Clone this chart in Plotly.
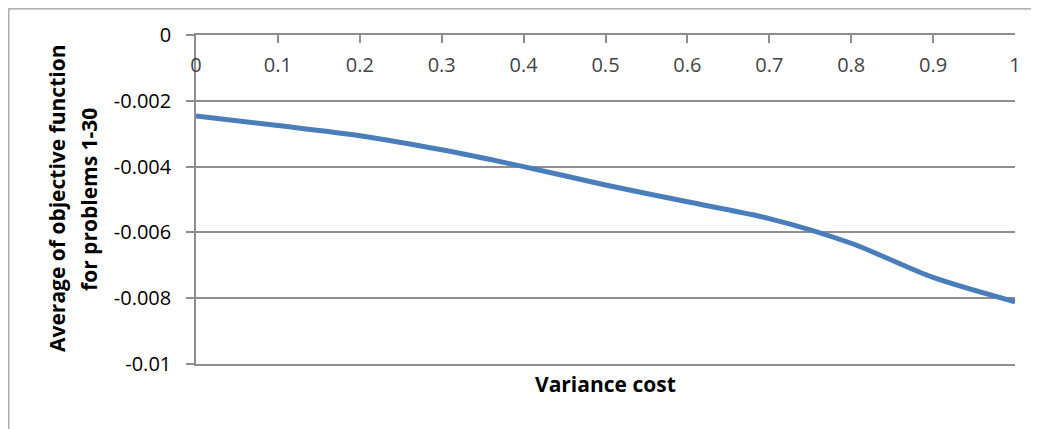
import plotly.graph_objects as go

variance_cost = [0, 0.1, 0.2, 0.3, 0.4, 0.5, 0.6, 0.7, 0.8, 0.9, 1.0]
avg_objective = [-0.00246, -0.00275, -0.00306, -0.00349, -0.00400, -0.00456,
                 -0.00507, -0.00558, -0.00633, -0.00737, -0.00811]

x_tickvals = [0, 0.1, 0.2, 0.3, 0.4, 0.5, 0.6, 0.7, 0.8, 0.9, 1.0]
x_ticktext = ["0", "0.1", "0.2", "0.3", "0.4", "0.5", "0.6", "0.7", "0.8", "0.9", "1"]
y_tickvals = [0, -0.002, -0.004, -0.006, -0.008, -0.01]
y_ticktext = ["0", "-0.002", "-0.004", "-0.006", "-0.008", "-0.01"]
y_title_lines = ["Average of objective function", "for problems 1-30"]
x_title = "Variance cost"

FONT = "Open Sans"
GRID = "#8e8e8e"
PW, PH = 819, 329  # plot area size in px


def px_x(page_x):
    return (page_x - 196) / PW


def px_y(page_y):
    return (364 - page_y) / PH


fig = go.Figure()
fig.add_trace(go.Scatter(
    x=variance_cost, y=avg_objective, mode="lines",
    line=dict(color="#4a7ebb", width=5, shape="spline", smoothing=0.8),
    showlegend=False, hoverinfo="skip",
))

fig.update_layout(
    width=1031, height=421,
    margin=dict(l=188, r=24, t=27, b=65),
    paper_bgcolor="white", plot_bgcolor="white",
    font=dict(family=FONT, size=20, color="#000000"),
    xaxis=dict(
        range=[0, 1], side="top",
        tickvals=x_tickvals, ticktext=x_ticktext,
        ticks="inside", ticklen=8, tickcolor=GRID, tickwidth=1.5,
        ticklabelposition="inside", ticklabeloverflow="allow",
        ticklabelstandoff=16,
        showline=True, linecolor=GRID, linewidth=1.5, mirror=True,
        showgrid=False, zeroline=False,
        title=None,
    ),
    yaxis=dict(
        range=[-0.01, 0],
        tickvals=y_tickvals, ticktext=y_ticktext,
        ticks="outside", ticklen=8, tickcolor=GRID, tickwidth=1.5,
        ticklabelstandoff=11,
        showline=True, linecolor=GRID, linewidth=1.5,
        showgrid=True, gridcolor=GRID, gridwidth=1.5,
        zeroline=False,
        title=None,
    ),
    annotations=[
        dict(text="<b>" + x_title + "</b>", xref="paper", yref="paper",
             x=0.5, y=px_y(384), xanchor="center", yanchor="middle",
             showarrow=False, font=dict(family=FONT, size=21)),
        dict(text="<b>" + y_title_lines[0] + "</b>",
             xref="paper", yref="paper",
             x=px_x(57), y=px_y(199), xanchor="center", yanchor="middle",
             textangle=-90, showarrow=False,
             font=dict(family=FONT, size=21)),
        dict(text="<b>" + y_title_lines[1] + "</b>",
             xref="paper", yref="paper",
             x=px_x(89), y=px_y(200), xanchor="center", yanchor="middle",
             textangle=-90, showarrow=False,
             font=dict(family=FONT, size=21)),
    ],
    shapes=[
        dict(type="rect", xref="paper", yref="paper",
             x0=px_x(8.8), x1=1.2, y0=-0.5, y1=px_y(8.8),
             line=dict(color="#9a9a9a", width=1.2), fillcolor="rgba(0,0,0,0)",
             layer="below"),
    ],
)

fig.write_html("out.html")
